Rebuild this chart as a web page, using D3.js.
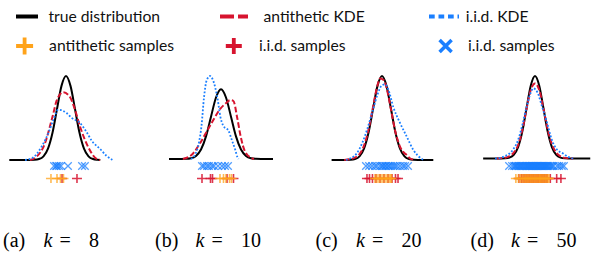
<!DOCTYPE html>
<html>
<head>
<meta charset="utf-8">
<script src="https://cdn.jsdelivr.net/npm/d3@7"></script>
<style>
  body { margin: 0; background: #fff; }
  text { font-family: Lato, "Open Sans", sans-serif; }
  .cap { font-family: "Liberation Serif", serif; }
</style>
</head>
<body>
<div id="chart"></div>
<script>
// density of the true distribution, x in standard deviations
const trueX = [-6.5,-6,-5.5,-5,-4.5,-4,-3.5,-3,-2.5,-2,-1.5,-1,-0.5,0,0.5,1,1.5,2,2.5,3,3.5,4,4.5,5,5.5,6,6.5]
const trueY = [0,0,0,0,0,0.0001,0.0009,0.0044,0.0175,0.054,0.1295,0.242,0.3521,0.3989,0.3521,0.242,0.1295,0.054,0.0175,0.0044,0.0009,0.0001,0,0,0,0,0]

// KDE curves, [x, density]
const antiKdeA = [[-4,0],[-3.26,0.016],[-2.33,0.08],[-1.78,0.16],[-1.4,0.222],[-1.03,0.283],[-0.3,0.322],[0.44,0.299],[1,0.239],[1.55,0.16],[2.1,0.096],[2.85,0.032],[3.3,0.008],[3.8,0]]
const iidKdeA = [[-4.55,0],[-3.8,0.008],[-2.7,0.064],[-1.96,0.128],[-1.41,0.19],[-0.85,0.239],[-0.4,0.235],[0.07,0.223],[0.63,0.2],[1.55,0.176],[2.3,0.132],[2.85,0.092],[3.8,0.052],[4.5,0.02],[5.2,0]]

const antiKdeB = [[-3.8,0],[-2.77,0.033],[-2.1,0.09],[-1.43,0.157],[-0.77,0.223],[-0.1,0.285],[0.57,0.323],[0.9,0.337],[1.23,0.333],[1.63,0.233],[1.97,0.128],[2.4,0.043],[3.07,0.005],[3.3,0]]
const iidKdeB = [[-3,0],[-2.6,0.024],[-2.2,0.095],[-1.95,0.19],[-1.7,0.352],[-1.43,0.451],[-1.1,0.475],[-0.8,0.451],[-0.35,0.347],[-0.05,0.238],[0.23,0.19],[0.75,0.162],[1.05,0.114],[1.4,0.057],[1.65,0.01],[1.75,0]]

const antiKdeC = [[-4.2,0],[-3.2,0.008],[-2.5,0.028],[-2,0.068],[-1.5,0.144],[-1,0.251],[-0.5,0.355],[-0.2,0.387],[0.2,0.379],[0.6,0.327],[1,0.239],[1.5,0.132],[2,0.064],[2.5,0.032],[2.75,0.024],[3.1,0.008],[3.7,0]]
const iidKdeC = [[-4,0],[-3.5,0.008],[-2.8,0.032],[-2.2,0.08],[-1.6,0.152],[-1,0.239],[-0.5,0.311],[0,0.355],[0.35,0.359],[0.7,0.335],[1.26,0.251],[2,0.176],[2.74,0.112],[3.48,0.048],[4,0.02],[4.6,0]]

const antiKdeD = [[-4.5,0],[-3.5,0.004],[-3,0.012],[-2.5,0.028],[-2,0.064],[-1.5,0.136],[-1,0.239],[-0.5,0.331],[0,0.363],[0.5,0.331],[1,0.239],[1.5,0.14],[2,0.068],[2.5,0.028],[3,0.01],[3.5,0.003],[4.5,0]]
const iidKdeD = [[-4.7,0],[-4,0.004],[-3.5,0.012],[-3,0.024],[-2.5,0.048],[-2,0.088],[-1.5,0.16],[-1,0.247],[-0.5,0.319],[-0.2,0.339],[0.3,0.319],[0.8,0.255],[1.37,0.18],[2,0.088],[2.5,0.048],[3.3,0.024],[3.9,0.008],[4.5,0]]

// sample positions (standard deviations)
const iidXA = [-1.33,-1.1,-1.0,-0.78,-0.56,0.22,1.78,2.1]
const antiPlusA = [-1.67,-1.0,-0.61,-0.28]
const iidPlusA = [-0.44,1.22]

const iidXB = [-1.9,-1.7,-1.4,-1.2,-0.9,-0.7,-0.3,0.1,0.4,0.7]
const antiPlusB = [-0.1,0.25,0.5,0.85,1.05]
const iidPlusB = [-1.9,-1.05,-0.85,0.6,1.25]

const iidXC = [-1.78,-1.44,-1.11,-0.78,-0.56,-0.22,0,0.11,0.33,0.44,0.67,0.78,1.0,1.22,1.44,1.67,2.0,2.33,2.56,2.89]
const antiPlusC = [-0.78,-0.56,-0.33,-0.11,0.11,0.33,0.56,0.78,0.94,1.06]
const iidPlusC = [-1.67,-1.39,-1.06,-0.67,-0.22,0.22,0.67,1.11,1.5,1.78]

const iidXD = [-3.05,-2.7,-2.45,-2.3,-2.2,-2.05,-1.9,-1.8,-1.7,-1.55,-1.45,-1.35,-1.2,-1.1,-1.0,-0.9,-0.8,-0.7,-0.6,-0.5,-0.42,-0.33,-0.25,-0.15,-0.05,0.05,0.12,0.2,0.3,0.4,0.5,0.6,0.7,0.8,0.9,1.0,1.1,1.2,1.3,1.4,1.5,1.6,1.75,1.9,2.05,2.2,2.6,2.85,3.15,3.4]
const antiPlusD = [-2.25,-1.95,-1.7,-1.5,-1.3,-1.15,-1.0,-0.85,-0.7,-0.55,-0.4,-0.25,-0.1,0.05,0.2,0.35,0.5,0.62,0.75,0.9,1.05,1.2,1.35,1.5,1.65]
const iidPlusD = [-1.9,-1.6,-1.4,-1.2,-1.05,-0.9,-0.72,-0.6,-0.45,-0.3,-0.15,0.0,0.15,0.3,0.45,0.6,0.72,0.85,1.0,1.15,1.3,1.45,1.8,2.55,3.05]

const panelLabels = ['(a)', '(b)', '(c)', '(d)']
const panelK = ['8', '10', '20', '50']
const trueRanges = [[-6.3,3.8],[-5.2,5.2],[-5.6,5.7],[-6.1,6.5]]
const panelYMax = [0.399, 0.475, 0.399, 0.399]

const legendLabels = ['true distribution', 'antithetic KDE', 'i.i.d. KDE', 'antithetic samples', 'i.i.d. samples', 'i.i.d. samples']

const BLACK = '#000', RED = '#d7142f', ORANGE = '#ffa31a', BLUE = '#1a7fff'

// layout of each panel in pixels
const layout = [
  { cx: 66, sd: 9, base: 160, capX: 3 },
  { cx: 221, sd: 10, base: 159, capX: 155 },
  { cx: 382, sd: 9, base: 160, capX: 315.5 },
  { cx: 535, sd: 8.5, base: 158.5, capX: 470.5 }
]

const kdes = [[antiKdeA, iidKdeA], [antiKdeB, iidKdeB], [antiKdeC, iidKdeC], [antiKdeD, iidKdeD]]
const samples = [
  [iidXA, antiPlusA, iidPlusA],
  [iidXB, antiPlusB, iidPlusB],
  [iidXC, antiPlusC, iidPlusC],
  [iidXD, antiPlusD, iidPlusD]
]

const svg = d3.select('#chart').append('svg')
  .attr('width', 592)
  .attr('height', 254)

function plusPath(x, y, w, h) {
  return `M${x - w},${y}H${x + w}M${x},${y - h}V${y + h}`
}
function crossPath(x, y, r) {
  return `M${x - r},${y - r}L${x + r},${y + r}M${x - r},${y + r}L${x + r},${y - r}`
}

// ---- legend ----
const leg = svg.append('g')
leg.append('line').attr('x1', 16).attr('x2', 38).attr('y1', 16.5).attr('y2', 16.5)
  .attr('stroke', BLACK).attr('stroke-width', 4)
leg.append('line').attr('x1', 220).attr('x2', 248).attr('y1', 16.5).attr('y2', 16.5)
  .attr('stroke', RED).attr('stroke-width', 4).attr('stroke-dasharray', '14,4')
leg.append('line').attr('x1', 429).attr('x2', 459).attr('y1', 16.5).attr('y2', 16.5)
  .attr('stroke', BLUE).attr('stroke-width', 3.8).attr('stroke-dasharray', '5.7,3.8')
leg.append('path').attr('d', plusPath(24.6, 46, 8.5, 8.5))
  .attr('stroke', ORANGE).attr('stroke-width', 3.8).attr('fill', 'none')
leg.append('path').attr('d', plusPath(233.8, 46, 8, 8))
  .attr('stroke', RED).attr('stroke-width', 3.8).attr('fill', 'none')
leg.append('path').attr('d', crossPath(445.6, 46, 6))
  .attr('stroke', BLUE).attr('stroke-width', 3.5).attr('fill', 'none')

const legPos = [[48.4, 22], [263.5, 22], [465.7, 22], [49.1, 51], [259, 51], [468, 51]]
leg.selectAll('text.leg')
  .data(legendLabels)
  .join('text')
  .attr('class', 'leg')
  .attr('x', (d, i) => legPos[i][0])
  .attr('y', (d, i) => legPos[i][1])
  .attr('font-size', 15.7)
  .attr('fill', '#111')
  .text(d => d)

// ---- panels ----
const trueData = trueX.map((x, i) => [x, trueY[i]])

layout.forEach((p, i) => {
  const x = d3.scaleLinear().domain([-1, 1]).range([p.cx - p.sd, p.cx + p.sd])
  const y = d3.scaleLinear().domain([0, panelYMax[i]]).range([p.base, 76])
  const line = d3.line().x(d => x(d[0])).y(d => y(d[1])).curve(d3.curveMonotoneX)

  const [lo, hi] = trueRanges[i]
  const truePts = [[lo, 0], ...trueData.filter(d => d[0] > lo && d[0] < hi), [hi, 0]]

  const g = svg.append('g')

  g.append('path').attr('d', line(truePts))
    .attr('fill', 'none').attr('stroke', BLACK).attr('stroke-width', 2)
  g.append('path').attr('d', line(kdes[i][0]))
    .attr('fill', 'none').attr('stroke', RED).attr('stroke-width', 2)
    .attr('stroke-dasharray', '5.5,2.4')
  g.append('path').attr('d', line(kdes[i][1]))
    .attr('fill', 'none').attr('stroke', BLUE).attr('stroke-width', 1.8)
    .attr('stroke-dasharray', '1.8,1.8')

  const [xs, ap, ip] = samples[i]
  g.selectAll('.xs').data(xs).join('path')
    .attr('class', 'xs')
    .attr('d', d => crossPath(x(d), 166, 3.8))
    .attr('stroke', BLUE).attr('stroke-width', 1.3).attr('stroke-opacity', 0.75).attr('fill', 'none')
  g.selectAll('.ip').data(ip).join('path')
    .attr('class', 'ip')
    .attr('d', d => plusPath(x(d), 178.5, 5, 4.6))
    .attr('stroke', RED).attr('stroke-width', 1.6).attr('stroke-opacity', 0.85).attr('fill', 'none')
  g.selectAll('.ap').data(ap).join('path')
    .attr('class', 'ap')
    .attr('d', d => plusPath(x(d), 178.5, 5, 4.6))
    .attr('stroke', ORANGE).attr('stroke-width', 1.6).attr('stroke-opacity', 0.75).attr('fill', 'none')

  // caption
  const cap = g.append('text').attr('class', 'cap').attr('y', 247).attr('font-size', 20).attr('fill', '#000')
  cap.append('tspan').attr('x', p.capX).text(panelLabels[i])
  cap.append('tspan').attr('x', p.capX + 40.5).attr('font-style', 'italic').text('k')
  cap.append('tspan').attr('x', p.capX + 56.5).text('=')
  cap.append('tspan').attr('x', p.capX + 86).text(panelK[i])
})
</script>
</body>
</html>
